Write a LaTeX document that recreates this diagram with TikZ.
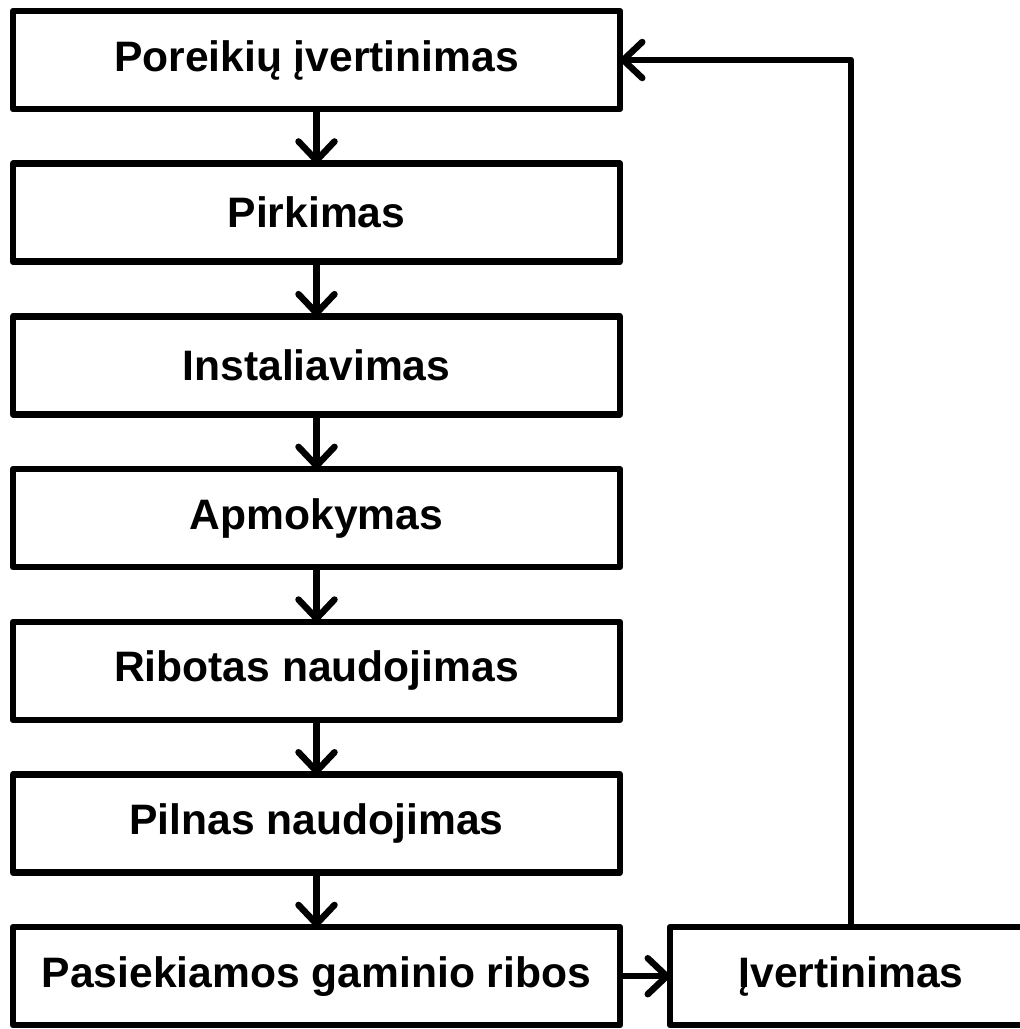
\documentclass[tikz,border=0pt]{standalone}
\usepackage{fontspec}
\setmainfont{Liberation Sans}
\usetikzlibrary{arrows.meta, positioning}

\begin{document}
\begin{tikzpicture}[x=1pt,y=1pt,
    stage/.style={draw, line width=6.5pt, line join=round, outer sep=0pt, inner sep=0pt,
                  minimum width=607pt, minimum height=98pt,
                  font=\fontsize{42.6}{50}\selectfont\bfseries},
    evalbox/.style={stage, minimum width=362pt},
    flow/.style={-{Straight Barb[length=19pt, width=36pt, round]}, line width=6.5pt, line join=round},
    node distance=54.7pt]
  \useasboundingbox (0,0) rectangle (1020,-1029);
  \clip (0,0) rectangle (1020,-1029);
  \node[stage] (poreikiai) at (316.5,-60) {Poreikių įvertinimas};
  \node[stage, below=of poreikiai] (pirkimas) {Pirkimas};
  \node[stage, below=of pirkimas] (instal) {Instaliavimas};
  \node[stage, below=of instal] (apmok) {Apmokymas};
  \node[stage, below=of apmok] (ribotas) {Ribotas naudojimas};
  \node[stage, below=of ribotas] (pilnas) {Pilnas naudojimas};
  \node[stage, below=of pilnas] (ribos) {Pasiekiamos gaminio ribos};
  \node[evalbox, right=50pt of ribos] (vert) {Įvertinimas};
  \foreach \a/\b in {poreikiai/pirkimas, pirkimas/instal, instal/apmok,
                     apmok/ribotas, ribotas/pilnas, pilnas/ribos} {
    \draw[flow] (\a.south) -- (\b.north);
  }
  \draw[flow] (ribos.east) -- (vert.west);
  \draw[flow] (vert.north) -- (vert.north |- poreikiai.east) -- (poreikiai.east);
\end{tikzpicture}
\end{document}
